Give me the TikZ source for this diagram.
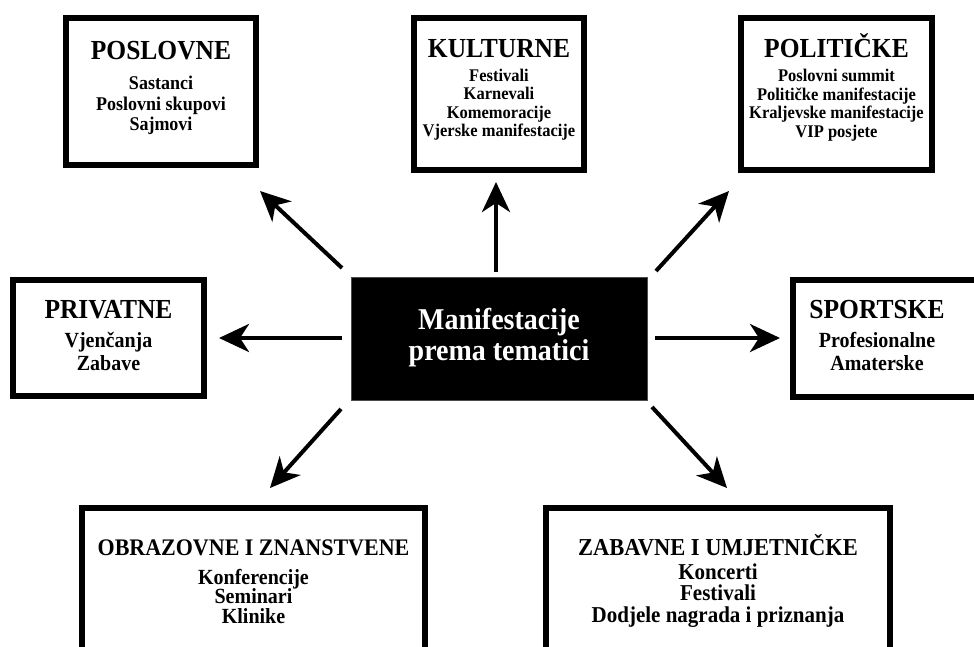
\documentclass[tikz,border=0pt]{standalone}
\usepackage{fontspec}
\usepackage{graphicx}
\setmainfont{Liberation Serif}
\usetikzlibrary{arrows.meta}
\newcommand{\vst}[1]{\scalebox{1}[1.08]{#1}}
\begin{document}
\begin{tikzpicture}[x=1pt,y=-1pt,
  catbox/.style={draw=black,line width=6pt,fill=white},
  arr/.style={line width=4pt,-{Stealth[length=30pt,width=28pt,inset=9pt]}},
  ttl/.style={font=\bfseries\fontsize{#1}{#1}\selectfont,anchor=base,inner sep=0pt},
  itm/.style={font=\bfseries\fontsize{#1}{#1}\selectfont,anchor=base,inner sep=0pt}]
\useasboundingbox (0,0) rectangle (974,647);
\begin{scope}
\clip (0,0) rectangle (974,647);
% boxes
\node[catbox,minimum width=190pt,minimum height=147pt,inner sep=0pt] (posl) at (161,91.5) {};
\node[catbox,minimum width=170pt,minimum height=152pt,inner sep=0pt] (kult) at (499,94) {};
\node[catbox,minimum width=191pt,minimum height=152pt,inner sep=0pt] (poli) at (836.5,94) {};
\node[catbox,minimum width=191pt,minimum height=116pt,inner sep=0pt] (priv) at (108.5,338) {};
\node[catbox,minimum width=190pt,minimum height=117pt,inner sep=0pt] (sport) at (888,338.5) {};
\node[catbox,minimum width=343pt,minimum height=200pt,inner sep=0pt] (obr) at (253.5,608) {};
\node[catbox,minimum width=344pt,minimum height=200pt,inner sep=0pt] (zab) at (718,608) {};
\node[fill=black,draw=black!70,line width=0.8pt,minimum width=296pt,minimum height=123pt,inner sep=0pt] (c) at (499,338.5) {};
\end{scope}
% texts
\node[ttl=25.5] (tposl) at (161,60) {\vst{POSLOVNE}};
\node[itm=18] (p1) at (161,90) {\vst{Sastanci}};
\node[itm=18] (p2) at (161,111) {\vst{Poslovni skupovi}};
\node[itm=18] (p3) at (161,131) {\vst{Sajmovi}};

\node[ttl=25.5] (tkult) at (499,58) {\vst{KULTURNE}};
\node[itm=16.5] (k1) at (499,82) {\vst{Festivali}};
\node[itm=16.5] (k2) at (499,100) {\vst{Karnevali}};
\node[itm=16.5] (k3) at (499,118.5) {\vst{Komemoracije}};
\node[itm=16.5] (k4) at (499,137) {\vst{Vjerske manifestacije}};

\node[ttl=25.5] (tpoli) at (836.5,58) {\vst{POLITIČKE}};
\node[itm=16.5] (l1) at (836.5,82) {\vst{Poslovni summit}};
\node[itm=16.5] (l2) at (836.5,100.5) {\vst{Političke manifestacije}};
\node[itm=16.5] (l3) at (836.5,119) {\vst{Kraljevske manifestacije}};
\node[itm=16.5] (l4) at (836.5,137.5) {\vst{VIP posjete}};

\node[ttl=25.5] (tpriv) at (108.5,318) {\vst{PRIVATNE}};
\node[itm=20] (r1) at (108.5,347) {\vst{Vjenčanja}};
\node[itm=20] (r2) at (108.5,370) {\vst{Zabave}};

\node[ttl=25.5] (tsport) at (877,318) {\vst{SPORTSKE}};
\node[itm=20] (s1) at (877,347) {\vst{Profesionalne}};
\node[itm=20] (s2) at (877,370) {\vst{Amaterske}};

\node[ttl=22] (tobr) at (253.5,555) {\vst{OBRAZOVNE I ZNANSTVENE}};
\node[itm=20] (o1) at (253.5,584) {\vst{Konferencije}};
\node[itm=20] (o2) at (253.5,603.5) {\vst{Seminari}};
\node[itm=20] (o3) at (253.5,623) {\vst{Klinike}};

\node[ttl=22.5] (tzab) at (718,555) {\vst{ZABAVNE I UMJETNIČKE}};
\node[itm=21] (z1) at (718,579) {\vst{Koncerti}};
\node[itm=21] (z2) at (718,600.5) {\vst{Festivali}};
\node[itm=21] (z3) at (718,622) {\vst{Dodjele nagrada i priznanja}};

\node[itm=28,text=white] (c1) at (499,329) {\vst{Manifestacije}};
\node[itm=28,text=white] (c2) at (499,360) {\vst{prema tematici}};

% arrows
\coordinate (sUL) at (342,268); \coordinate (eUL) at (260,191);
\coordinate (sU) at (496,272);  \coordinate (eU) at (496,182);
\coordinate (sUR) at (656,271); \coordinate (eUR) at (729,191);
\coordinate (sL) at (342,338);  \coordinate (eL) at (219,338);
\coordinate (sR) at (655,338);  \coordinate (eR) at (780,338);
\coordinate (sDL) at (341,409); \coordinate (eDL) at (270,488);
\coordinate (sDR) at (652,407); \coordinate (eDR) at (727,488);
\draw[arr] (sUL) -- (eUL);
\draw[arr] (sU) -- (eU);
\draw[arr] (sUR) -- (eUR);
\draw[arr] (sL) -- (eL);
\draw[arr] (sR) -- (eR);
\draw[arr] (sDL) -- (eDL);
\draw[arr] (sDR) -- (eDR);
\end{tikzpicture}
\end{document}
